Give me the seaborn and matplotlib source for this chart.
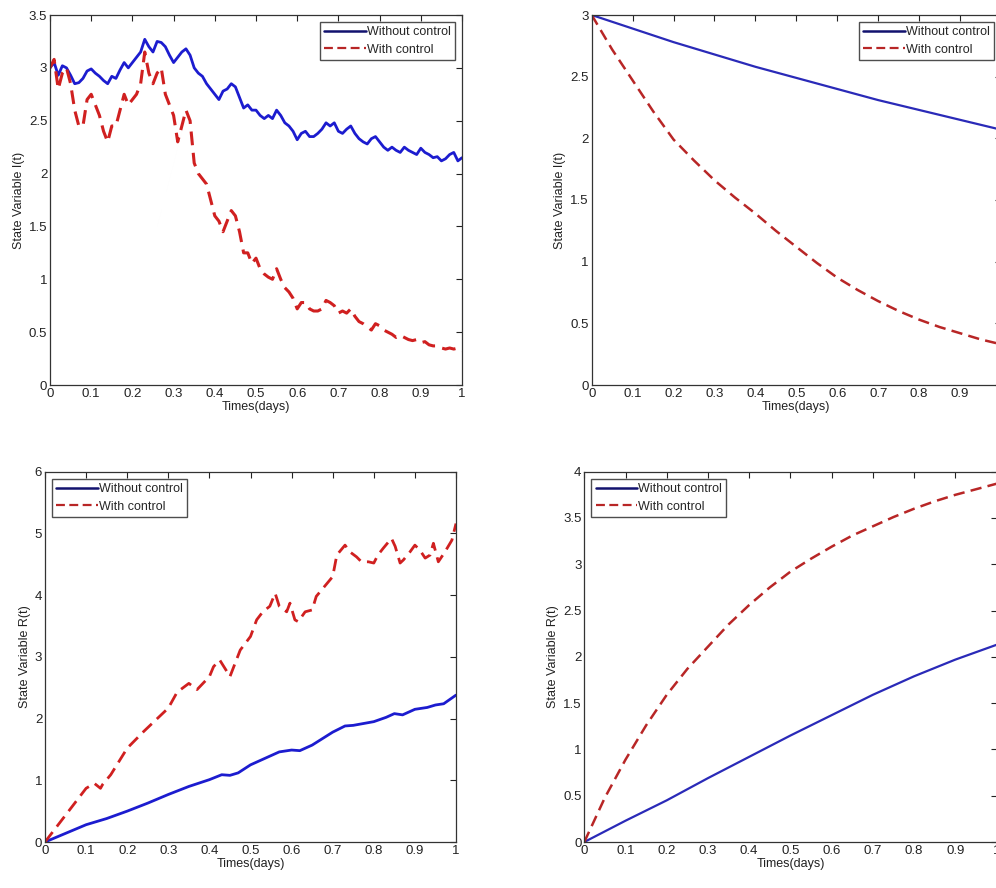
import numpy as np
import pandas as pd
import matplotlib
matplotlib.use("Agg")
import matplotlib.pyplot as plt
import seaborn as sns

# ---------------- data ----------------
# Top-left: stochastic I(t)
t_i_stoch = [round(0.01 * k, 2) for k in range(101)]
i_stoch_without = [3.00, 3.05, 2.93, 3.02, 3.00, 2.93, 2.85, 2.86, 2.90, 2.97,
                   2.99, 2.95, 2.92, 2.88, 2.85, 2.92, 2.90, 2.98, 3.05, 3.00,
                   3.05, 3.10, 3.15, 3.27, 3.20, 3.15, 3.25, 3.24, 3.20, 3.12,
                   3.05, 3.10, 3.15, 3.18, 3.12, 3.00, 2.95, 2.92, 2.85, 2.80,
                   2.75, 2.70, 2.78, 2.80, 2.85, 2.82, 2.72, 2.62, 2.65, 2.60,
                   2.60, 2.55, 2.52, 2.55, 2.52, 2.60, 2.55, 2.48, 2.45, 2.40,
                   2.32, 2.38, 2.40, 2.35, 2.35, 2.38, 2.42, 2.48, 2.45, 2.48,
                   2.40, 2.38, 2.42, 2.45, 2.38, 2.33, 2.30, 2.28, 2.33, 2.35,
                   2.30, 2.25, 2.22, 2.25, 2.22, 2.20, 2.25, 2.22, 2.20, 2.18,
                   2.24, 2.20, 2.18, 2.15, 2.16, 2.12, 2.14, 2.18, 2.20, 2.12,
                   2.15]
i_stoch_with = [3.00, 3.08, 2.80, 2.95, 3.00, 2.85, 2.60, 2.45, 2.45, 2.70,
                2.75, 2.65, 2.55, 2.40, 2.30, 2.45, 2.45, 2.60, 2.75, 2.65,
                2.70, 2.75, 2.85, 3.15, 2.95, 2.85, 2.95, 3.00, 2.75, 2.65,
                2.55, 2.30, 2.45, 2.60, 2.50, 2.10, 2.00, 1.95, 1.90, 1.75,
                1.60, 1.55, 1.45, 1.55, 1.65, 1.60, 1.45, 1.25, 1.25, 1.15,
                1.20, 1.10, 1.05, 1.02, 1.00, 1.10, 1.00, 0.92, 0.88, 0.82,
                0.72, 0.78, 0.78, 0.72, 0.70, 0.70, 0.72, 0.80, 0.78, 0.75,
                0.68, 0.70, 0.68, 0.72, 0.65, 0.60, 0.58, 0.55, 0.52, 0.58,
                0.56, 0.52, 0.50, 0.48, 0.45, 0.47, 0.45, 0.43, 0.42, 0.43,
                0.40, 0.41, 0.38, 0.37, 0.37, 0.35, 0.34, 0.35, 0.34, 0.35,
                0.32]

# Top-right: deterministic I(t)
t_i_det = [round(0.05 * k, 2) for k in range(21)]
i_det_without = [3.00, 2.945, 2.89, 2.835, 2.78, 2.73, 2.68, 2.63, 2.58, 2.535, 2.49,
                 2.445, 2.40, 2.355, 2.31, 2.27, 2.23, 2.19, 2.15, 2.11, 2.07]
i_det_with = [3.00, 2.72, 2.47, 2.22, 1.99, 1.82, 1.66, 1.52, 1.39, 1.25, 1.12,
              0.99, 0.87, 0.77, 0.68, 0.60, 0.53, 0.47, 0.42, 0.37, 0.33]

# Bottom-left: stochastic R(t)
t_r_stoch_without = [0, 0.05, 0.1, 0.15, 0.2, 0.25, 0.3, 0.35, 0.4, 0.43, 0.45, 0.47,
                     0.5, 0.55, 0.57, 0.6, 0.62, 0.65, 0.7, 0.73, 0.75, 0.8, 0.83,
                     0.85, 0.87, 0.9, 0.93, 0.95, 0.97, 1.0]
r_stoch_without = [0, 0.14, 0.28, 0.38, 0.50, 0.63, 0.77, 0.90, 1.01, 1.09, 1.08, 1.12,
                   1.25, 1.40, 1.46, 1.49, 1.48, 1.57, 1.78, 1.88, 1.89, 1.95, 2.02,
                   2.08, 2.06, 2.15, 2.18, 2.22, 2.24, 2.38]
t_r_stoch_with = [0, 0.1, 0.12, 0.135, 0.14, 0.16, 0.2, 0.24, 0.3, 0.32, 0.33, 0.35,
                  0.37, 0.4, 0.41, 0.425, 0.44, 0.45, 0.475, 0.5, 0.515, 0.53, 0.547,
                  0.56, 0.57, 0.588, 0.596, 0.608, 0.616, 0.633, 0.65, 0.66, 0.68,
                  0.7, 0.71, 0.73, 0.742, 0.758, 0.77, 0.787, 0.8, 0.81, 0.823,
                  0.843, 0.852, 0.864, 0.872, 0.888, 0.9, 0.912, 0.925, 0.937,
                  0.945, 0.957, 0.973, 0.99, 1.0]
r_stoch_with = [0, 0.87, 0.95, 0.87, 0.93, 1.09, 1.52, 1.79, 2.17, 2.41, 2.47, 2.57,
                2.47, 2.68, 2.84, 2.95, 2.79, 2.68, 3.11, 3.33, 3.60, 3.73, 3.82,
                4.03, 3.82, 3.73, 3.87, 3.60, 3.57, 3.73, 3.76, 3.98, 4.14,
                4.30, 4.65, 4.81, 4.70, 4.62, 4.54, 4.54, 4.52, 4.65, 4.76,
                4.92, 4.79, 4.52, 4.57, 4.70, 4.81, 4.73, 4.60, 4.65,
                4.84, 4.54, 4.70, 4.89, 5.16]

# Bottom-right: deterministic R(t)
t_r_det = [round(0.1 * k, 1) for k in range(11)]
t_r_det_fine = [round(0.05 * k, 2) for k in range(21)]
r_det_without = [0, 0.23, 0.45, 0.69, 0.92, 1.15, 1.37, 1.59, 1.79, 1.97, 2.13]
r_det_with = [0, 0.48, 0.89, 1.26, 1.59, 1.87, 2.11, 2.35, 2.56, 2.75, 2.92,
              3.06, 3.19, 3.31, 3.41, 3.51, 3.60, 3.68, 3.75, 3.81, 3.87]

x_ticks = [0, 0.1, 0.2, 0.3, 0.4, 0.5, 0.6, 0.7, 0.8, 0.9, 1]
x_tick_labels = ["0", "0.1", "0.2", "0.3", "0.4", "0.5", "0.6", "0.7", "0.8", "0.9", "1"]
yt_tl = [0, 0.5, 1, 1.5, 2, 2.5, 3, 3.5]
yl_tl = ["0", "0.5", "1", "1.5", "2", "2.5", "3", "3.5"]
yt_tr = [0, 0.5, 1, 1.5, 2, 2.5, 3]
yl_tr = ["0", "0.5", "1", "1.5", "2", "2.5", "3"]
yt_bl = [0, 1, 2, 3, 4, 5, 6]
yl_bl = ["0", "1", "2", "3", "4", "5", "6"]
yt_br = [0, 0.5, 1, 1.5, 2, 2.5, 3, 3.5, 4]
yl_br = ["0", "0.5", "1", "1.5", "2", "2.5", "3", "3.5", "4"]

label_without = "Without control"
label_with = "With control"

# ---------------- style ----------------
sns.set_theme(style="white")
plt.rcParams["font.family"] = ["Liberation Sans Narrow", "Liberation Sans", "DejaVu Sans"]
plt.rcParams["xtick.direction"] = "in"
plt.rcParams["ytick.direction"] = "in"

BLUE = "#1c1ccf"
BLUE_SMOOTH = "#2a2ab8"
RED = "#d02020"
RED_SMOOTH = "#b82626"
LEG_BLUE = "#12126e"

fig = plt.figure(figsize=(9.96, 8.88), dpi=100)
W, H = 996.0, 888.0


def make_ax(l, r, t, b):
    return fig.add_axes([l / W, (H - b) / H, (r - l) / W, (b - t) / H])


ax_tl = make_ax(50, 462, 15, 385)
ax_tr = make_ax(591.7, 1001, 15, 385)
ax_bl = make_ax(45, 456, 471.7, 842)
ax_br = make_ax(584.3, 996.5, 471.7, 842)


def draw(ax, x1, y1, x2, y2, lw1, lw2, c1, c2):
    sns.lineplot(x=x1, y=y1, ax=ax, color=c1, linewidth=lw1, estimator=None,
                 sort=False, label=label_without, legend=False)
    sns.lineplot(x=x2, y=y2, ax=ax, color=c2, linewidth=lw2, estimator=None,
                 sort=False, label=label_with, legend=False)
    ax.lines[1].set_dashes([4.5, 2.5])


draw(ax_tl, t_i_stoch, i_stoch_without, t_i_stoch, i_stoch_with, 2.0, 2.2, BLUE, RED)
draw(ax_tr, t_i_det, i_det_without, t_i_det, i_det_with, 1.6, 1.8, BLUE_SMOOTH, RED_SMOOTH)
draw(ax_bl, t_r_stoch_without, r_stoch_without, t_r_stoch_with, r_stoch_with, 2.0, 2.0, BLUE, RED)
draw(ax_br, t_r_det, r_det_without, t_r_det_fine, r_det_with, 1.6, 1.8, BLUE_SMOOTH, RED_SMOOTH)

from matplotlib.lines import Line2D

configs = [
    (ax_tl, yt_tl, yl_tl, (0, 3.5), "State Variable I(t)", "upper right"),
    (ax_tr, yt_tr, yl_tr, (0, 3), "State Variable I(t)", "upper right"),
    (ax_bl, yt_bl, yl_bl, (0, 6), "State Variable R(t)", "upper left"),
    (ax_br, yt_br, yl_br, (0, 4), "State Variable R(t)", "upper left"),
]
for ax, yt, yl, ylim, ylabel, loc in configs:
    ax.set_xlim(0, 1)
    ax.set_ylim(*ylim)
    ax.set_xticks(x_ticks)
    ax.set_xticklabels(x_tick_labels)
    ax.set_yticks(yt)
    ax.set_yticklabels(yl)
    ax.tick_params(axis="both", which="both", direction="in", length=4, width=0.8,
                   top=True, right=True, labelsize=9.5, colors="#222222", pad=2)
    for s in ax.spines.values():
        s.set_color("#333333")
        s.set_linewidth(0.9)
        s.set_visible(True)
    ax.set_xlabel("Times(days)", fontsize=9, labelpad=1, color="#222222")
    ax.set_ylabel(ylabel, fontsize=9, labelpad=3, color="#222222")
    ax.set_facecolor("white")
    handles = [Line2D([], [], color=LEG_BLUE, lw=1.8),
               Line2D([], [], color=RED_SMOOTH, lw=1.6, dashes=[4.0, 2.0])]
    leg = ax.legend(handles, [label_without, label_with], loc=loc, fontsize=9,
                    frameon=True, fancybox=False, handlelength=3.3, handletextpad=0.1,
                    borderpad=0.35, labelspacing=0.45, borderaxespad=0.55)
    leg.get_frame().set_edgecolor("#222222")
    leg.get_frame().set_linewidth(1.0)

fig.savefig("out.png", dpi=100, facecolor="white")
